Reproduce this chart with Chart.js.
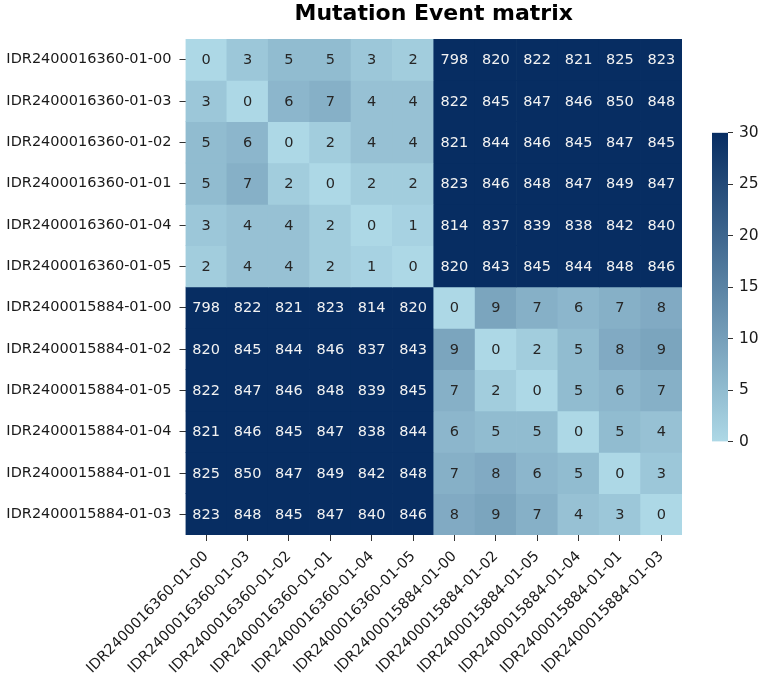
<!DOCTYPE html>
<html>
<head>
<meta charset="utf-8">
<script src="https://cdn.jsdelivr.net/npm/chart.js@4/dist/chart.umd.min.js"></script>
<style>
  html, body { margin: 0; padding: 0; background: #fff; }
  #wrap { position: relative; width: 767px; height: 681px; }
  #main { position: absolute; left: 0; top: 0; }
  #cbarBox { position: absolute; left: 690px; top: 100px; width: 77px; height: 360px; }
</style>
</head>
<body>
<div id="wrap">
  <canvas id="main" width="767" height="681"></canvas>
  <div id="cbarBox"><canvas id="cbar" width="77" height="360"></canvas></div>
</div>
<script>
// ---------- data ----------
const sampleLabels = [
  "IDR2400016360-01-00", "IDR2400016360-01-03", "IDR2400016360-01-02",
  "IDR2400016360-01-01", "IDR2400016360-01-04", "IDR2400016360-01-05",
  "IDR2400015884-01-00", "IDR2400015884-01-02", "IDR2400015884-01-05",
  "IDR2400015884-01-04", "IDR2400015884-01-01", "IDR2400015884-01-03"
];
const row00 = [0, 3, 5, 5, 3, 2, 798, 820, 822, 821, 825, 823];
const row01 = [3, 0, 6, 7, 4, 4, 822, 845, 847, 846, 850, 848];
const row02 = [5, 6, 0, 2, 4, 4, 821, 844, 846, 845, 847, 845];
const row03 = [5, 7, 2, 0, 2, 2, 823, 846, 848, 847, 849, 847];
const row04 = [3, 4, 4, 2, 0, 1, 814, 837, 839, 838, 842, 840];
const row05 = [2, 4, 4, 2, 1, 0, 820, 843, 845, 844, 848, 846];
const row06 = [798, 822, 821, 823, 814, 820, 0, 9, 7, 6, 7, 8];
const row07 = [820, 845, 844, 846, 837, 843, 9, 0, 2, 5, 8, 9];
const row08 = [822, 847, 846, 848, 839, 845, 7, 2, 0, 5, 6, 7];
const row09 = [821, 846, 845, 847, 838, 844, 6, 5, 5, 0, 5, 4];
const row10 = [825, 850, 847, 849, 842, 848, 7, 8, 6, 5, 0, 3];
const row11 = [823, 848, 845, 847, 840, 846, 8, 9, 7, 4, 3, 0];
const colorbarTicks = [0, 5, 10, 15, 20, 25, 30];
const titleText = "Mutation Event matrix";

const matrix = [row00, row01, row02, row03, row04, row05, row06, row07, row08, row09, row10, row11];
const vMin = 0, vMax = 30;

// ---------- colour map (lightblue -> navy) ----------
const cLow = [173, 216, 230];
const cHigh = [7, 45, 98];
function cmap(v) {
  let t = (v - vMin) / (vMax - vMin);
  t = Math.max(0, Math.min(1, t));
  const c = cLow.map((a, k) => Math.round(a + (cHigh[k] - a) * t));
  return `rgb(${c[0]},${c[1]},${c[2]})`;
}
function textColor(v) {
  const t = (v - vMin) / (vMax - vMin);
  return t < 0.5 ? '#262626' : '#f2f2f2';
}

const FONT = "'DejaVu Sans', sans-serif";

// ---------- heatmap ----------
const datasets = matrix.map((row, i) => ({
  label: sampleLabels[i],
  data: row.map(() => 1),
  backgroundColor: row.map(v => cmap(v)),
  borderWidth: 0,
  barPercentage: 1.0,
  categoryPercentage: 1.0,
  stack: 'cells'
}));

const annotatePlugin = {
  id: 'annotate',
  afterDatasetsDraw(chart) {
    const ctx = chart.ctx;
    ctx.save();
    ctx.font = `14.5px ${FONT}`;
    ctx.textAlign = 'center';
    ctx.textBaseline = 'middle';
    matrix.forEach((row, i) => {
      const meta = chart.getDatasetMeta(i);
      meta.data.forEach((bar, j) => {
        const p = bar.getProps(['x', 'y', 'base'], true);
        ctx.fillStyle = textColor(row[j]);
        ctx.fillText(String(row[j]), p.x, (p.y + p.base) / 2 + 1);
      });
    });
    ctx.restore();
  }
};

new Chart(document.getElementById('main'), {
  type: 'bar',
  data: { labels: sampleLabels, datasets },
  options: {
    responsive: false,
    animation: false,
    layout: { padding: { left: 0, right: 85, top: 0, bottom: 0 } },
    plugins: {
      legend: { display: false },
      tooltip: { enabled: false },
      title: {
        display: true,
        text: titleText,
        fullSize: false,
        color: '#000',
        font: { family: FONT, size: 22, weight: 'bold', lineHeight: 1.1 },
        padding: { top: 2, bottom: 12.8 }
      }
    },
    scales: {
      x: {
        stacked: true,
        offset: true,
        grid: { drawOnChartArea: false, offset: false, drawTicks: true, tickLength: 6, color: '#333', lineWidth: 1 },
        border: { display: false },
        ticks: {
          autoSkip: false,
          minRotation: 45, maxRotation: 45,
          padding: 7,
          color: '#1a1a1a',
          font: { family: FONT, size: 14.5 }
        },
        afterFit(scale) { scale.height = 146; }
      },
      y: {
        stacked: true,
        reverse: true,
        min: 0, max: 12,
        grid: { drawOnChartArea: false, drawTicks: true, tickLength: 6, color: '#333', lineWidth: 1 },
        border: { display: false },
        afterBuildTicks(scale) {
          scale.ticks = sampleLabels.map((_, i) => ({ value: i + 0.5 }));
        },
        ticks: {
          autoSkip: false,
          padding: 8,
          color: '#1a1a1a',
          font: { family: FONT, size: 14.5 },
          callback: (value, index) => sampleLabels[index]
        },
        afterFit(scale) { scale.width = 185.5; }
      }
    }
  },
  plugins: [annotatePlugin]
});

// ---------- colour bar ----------
new Chart(document.getElementById('cbar'), {
  type: 'bar',
  data: {
    labels: [''],
    datasets: [{
      data: [vMax],
      borderWidth: 0,
      barPercentage: 1.0,
      categoryPercentage: 1.0,
      backgroundColor(ctx) {
        const ca = ctx.chart.chartArea;
        if (!ca) return cmap(vMax);
        const g = ctx.chart.ctx.createLinearGradient(0, ca.bottom, 0, ca.top);
        colorbarTicks.forEach(t => g.addColorStop((t - vMin) / (vMax - vMin), cmap(t)));
        return g;
      }
    }]
  },
  options: {
    responsive: false,
    animation: false,
    layout: { padding: { left: 22, right: 0, top: 32.7, bottom: 18.3 } },
    plugins: { legend: { display: false }, tooltip: { enabled: false }, title: { display: false } },
    scales: {
      x: { display: false },
      y: {
        position: 'right',
        min: vMin, max: vMax,
        grid: { drawOnChartArea: false, drawTicks: true, tickLength: 5, color: '#333' },
        border: { display: false },
        afterBuildTicks(scale) { scale.ticks = colorbarTicks.map(v => ({ value: v })); },
        ticks: { padding: 6, color: '#1a1a1a', font: { family: FONT, size: 15.5 } },
        afterFit(scale) { scale.width = 39; }
      }
    }
  }
});
</script>
</body>
</html>
